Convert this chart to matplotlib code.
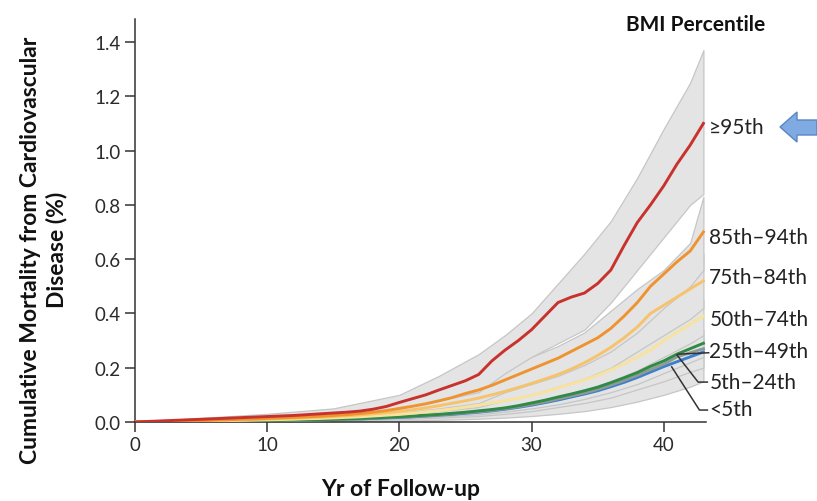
import matplotlib
matplotlib.use("Agg")
import matplotlib.pyplot as plt
from matplotlib.patches import Polygon

# yearly values (cumulative CVD mortality, %)
YEARS = list(range(0, 44))
P95 = [0.000, 0.002, 0.004, 0.006, 0.008, 0.010, 0.012, 0.014, 0.016, 0.018,
       0.020, 0.022, 0.024, 0.027, 0.030, 0.033, 0.036, 0.040, 0.047, 0.057,
       0.072, 0.086, 0.100, 0.118, 0.135, 0.152, 0.175, 0.225, 0.265, 0.300,
       0.340, 0.390, 0.440, 0.460, 0.475, 0.510, 0.560, 0.650, 0.735, 0.800,
       0.870, 0.950, 1.020, 1.100]
P85 = [0.000, 0.001, 0.002, 0.003, 0.004, 0.005, 0.007, 0.008, 0.010, 0.011,
       0.013, 0.015, 0.017, 0.019, 0.021, 0.024, 0.027, 0.031, 0.036, 0.042,
       0.050, 0.058, 0.067, 0.078, 0.090, 0.105, 0.118, 0.135, 0.155, 0.175,
       0.195, 0.215, 0.235, 0.260, 0.285, 0.310, 0.345, 0.390, 0.440, 0.500,
       0.545, 0.590, 0.630, 0.700]
P75 = [0.000, 0.001, 0.002, 0.003, 0.004, 0.005, 0.006, 0.007, 0.008, 0.009,
       0.011, 0.012, 0.014, 0.016, 0.018, 0.020, 0.023, 0.026, 0.030, 0.034,
       0.039, 0.045, 0.052, 0.060, 0.069, 0.078, 0.088, 0.100, 0.113, 0.127,
       0.142, 0.158, 0.175, 0.195, 0.218, 0.245, 0.275, 0.310, 0.350, 0.400,
       0.430, 0.460, 0.490, 0.520]
P50 = [0.000, 0.001, 0.001, 0.002, 0.003, 0.003, 0.004, 0.005, 0.006, 0.007,
       0.008, 0.009, 0.010, 0.012, 0.013, 0.015, 0.017, 0.019, 0.022, 0.025,
       0.028, 0.032, 0.037, 0.042, 0.048, 0.055, 0.062, 0.070, 0.079, 0.088,
       0.098, 0.110, 0.125, 0.140, 0.155, 0.172, 0.192, 0.215, 0.240, 0.265,
       0.300, 0.330, 0.360, 0.390]
P25 = [0.000, 0.000, 0.001, 0.001, 0.002, 0.002, 0.003, 0.003, 0.004, 0.005,
       0.005, 0.006, 0.007, 0.008, 0.009, 0.010, 0.012, 0.013, 0.015, 0.017,
       0.019, 0.022, 0.025, 0.028, 0.032, 0.036, 0.041, 0.046, 0.052, 0.060,
       0.070, 0.080, 0.092, 0.103, 0.115, 0.128, 0.145, 0.163, 0.182, 0.205,
       0.225, 0.250, 0.270, 0.290]
P05 = [0.000, 0.000, 0.001, 0.001, 0.001, 0.002, 0.002, 0.003, 0.003, 0.004,
       0.005, 0.005, 0.006, 0.007, 0.008, 0.009, 0.010, 0.012, 0.014, 0.016,
       0.018, 0.020, 0.023, 0.026, 0.030, 0.034, 0.038, 0.043, 0.049, 0.056,
       0.065, 0.074, 0.085, 0.096, 0.107, 0.120, 0.136, 0.153, 0.172, 0.193,
       0.213, 0.240, 0.255, 0.270]
P00 = [0.000, 0.000, 0.000, 0.001, 0.001, 0.002, 0.002, 0.003, 0.003, 0.004,
       0.004, 0.005, 0.006, 0.007, 0.008, 0.009, 0.010, 0.011, 0.013, 0.015,
       0.017, 0.019, 0.022, 0.025, 0.028, 0.032, 0.036, 0.041, 0.047, 0.054,
       0.062, 0.071, 0.081, 0.092, 0.103, 0.115, 0.130, 0.146, 0.164, 0.184,
       0.204, 0.222, 0.240, 0.258]

# confidence bands, coarser grid
BAND_YEARS = [0, 10, 15, 20, 23, 26, 28, 30, 32, 34, 36, 38, 40, 42, 43]
P95_LO = [0, 0.012, 0.020, 0.050, 0.080, 0.110, 0.180, 0.240, 0.290, 0.340, 0.440, 0.560, 0.680, 0.800, 0.840]
P95_HI = [0, 0.030, 0.050, 0.100, 0.170, 0.250, 0.320, 0.400, 0.510, 0.620, 0.740, 0.900, 1.080, 1.250, 1.370]
P85_LO = [0, 0.008, 0.018, 0.033, 0.050, 0.070, 0.110, 0.140, 0.170, 0.210, 0.260, 0.330, 0.420, 0.500, 0.560]
P85_HI = [0, 0.020, 0.035, 0.070, 0.100, 0.140, 0.190, 0.240, 0.280, 0.330, 0.410, 0.490, 0.560, 0.660, 0.830]
P75_LO = [0, 0.006, 0.012, 0.025, 0.040, 0.055, 0.080, 0.100, 0.130, 0.160, 0.200, 0.260, 0.320, 0.380, 0.420]
P75_HI = [0, 0.015, 0.028, 0.055, 0.080, 0.110, 0.140, 0.180, 0.220, 0.260, 0.320, 0.400, 0.480, 0.560, 0.620]
P50_LO = [0, 0.005, 0.010, 0.018, 0.028, 0.040, 0.055, 0.075, 0.095, 0.120, 0.150, 0.190, 0.240, 0.290, 0.320]
P50_HI = [0, 0.012, 0.022, 0.040, 0.060, 0.080, 0.100, 0.125, 0.150, 0.185, 0.230, 0.290, 0.350, 0.410, 0.450]
P25_LO = [0, 0.003, 0.007, 0.013, 0.020, 0.028, 0.038, 0.050, 0.065, 0.085, 0.110, 0.140, 0.180, 0.220, 0.240]
P25_HI = [0, 0.008, 0.014, 0.026, 0.038, 0.050, 0.062, 0.080, 0.105, 0.130, 0.165, 0.210, 0.255, 0.300, 0.320]
P05_LO = [0, 0.002, 0.005, 0.010, 0.016, 0.022, 0.030, 0.040, 0.055, 0.070, 0.090, 0.120, 0.150, 0.185, 0.200]
P05_HI = [0, 0.008, 0.014, 0.026, 0.036, 0.048, 0.060, 0.078, 0.100, 0.125, 0.158, 0.200, 0.245, 0.290, 0.310]
P00_LO = [0, 0.000, 0.002, 0.005, 0.008, 0.012, 0.016, 0.022, 0.030, 0.040, 0.055, 0.075, 0.100, 0.130, 0.150]
P00_HI = [0, 0.010, 0.018, 0.032, 0.045, 0.060, 0.075, 0.095, 0.120, 0.150, 0.185, 0.230, 0.280, 0.320, 0.340]

LABELS = ["\u226595th", "85th\u201394th", "75th\u201384th", "50th\u201374th",
          "25th\u201349th", "5th\u201324th", "<5th"]
LABEL_Y = [1.087, 0.682, 0.534, 0.380, 0.262, 0.147, 0.048]

SERIES = [P95, P85, P75, P50, P25, P05, P00]
BANDS = [(P95_LO, P95_HI), (P85_LO, P85_HI), (P75_LO, P75_HI), (P50_LO, P50_HI),
         (P25_LO, P25_HI), (P05_LO, P05_HI), (P00_LO, P00_HI)]
COLORS = ["#c8322d", "#ef9330", "#f7c26c", "#f8e39e", "#2f8a45", "#8e9a92", "#3b80cf"]

plt.rcParams["font.family"] = ["Lato", "DejaVu Sans"]

fig = plt.figure(figsize=(8.17, 5.02), dpi=100)
ax = fig.add_axes([0.1652, 0.1574, 0.699, 0.803])

# bands first (opaque, so overlaps don't darken), lines on top
for lo, hi in BANDS[::-1]:
    ax.fill_between(BAND_YEARS, lo, hi, facecolor="#e4e4e4", edgecolor="#c6c6c6",
                    lw=0.9, zorder=1)
for ys, c in list(zip(SERIES, COLORS))[::-1]:
    ax.plot(YEARS, ys, color=c, lw=2.1, zorder=3)

ax.set_xlim(0, 43.2)
ax.set_ylim(0, 1.485)
ax.set_xticks([0, 10, 20, 30, 40])
ax.set_yticks([0.0, 0.2, 0.4, 0.6, 0.8, 1.0, 1.2, 1.4])
ax.set_yticklabels([f"{v:.1f}" for v in ax.get_yticks()])
ax.tick_params(direction="out", length=7, width=1.1, labelsize=13.5, pad=3,
               labelcolor="#2a2a2a", color="#333333")
for s in ("top", "right"):
    ax.spines[s].set_visible(False)
for s in ("left", "bottom"):
    ax.spines[s].set_linewidth(1.1)
    ax.spines[s].set_color("#333333")

for lab, y in zip(LABELS, LABEL_Y):
    ax.text(43.45, y, lab, fontsize=15, color="#222222", va="center",
            ha="left", clip_on=False)

# leader lines for the three bottom labels
LEADERS = [
    [(43.4, 0.255), (41.1, 0.250)],
    [(43.3, 0.147), (42.6, 0.147), (41.0, 0.247)],
    [(43.3, 0.044), (42.7, 0.044), (40.6, 0.203)],
]
for pts in LEADERS:
    xs, ys = zip(*pts)
    ax.plot(xs, ys, color="#333333", lw=1.1, clip_on=False, zorder=4)

fig.text(0.851, 0.950, "BMI Percentile", fontsize=15, fontweight="bold",
         ha="center", va="center", color="#111111")
fig.text(0.053, 0.502, "Cumulative Mortality from Cardiovascular\nDisease (%)",
         rotation=90, fontsize=16.5, fontweight="bold", ha="center", va="center",
         multialignment="center", linespacing=1.25, color="#111111")
fig.text(0.491, 0.024, "Yr of Follow-up", fontsize=16.5, fontweight="bold",
         ha="center", va="center", color="#111111")

# the blue arrow pointing at the top label
arrow = [(780, 128), (797, 113), (797, 121), (817, 121), (817, 136), (797, 136),
         (797, 143)]
fig.patches.append(Polygon([(x / 817, 1 - y / 502) for x, y in arrow],
                           closed=True, transform=fig.transFigure,
                           facecolor="#7faae2", edgecolor="#5a86c4", lw=1.0))

fig.savefig("out.png", dpi=100)
